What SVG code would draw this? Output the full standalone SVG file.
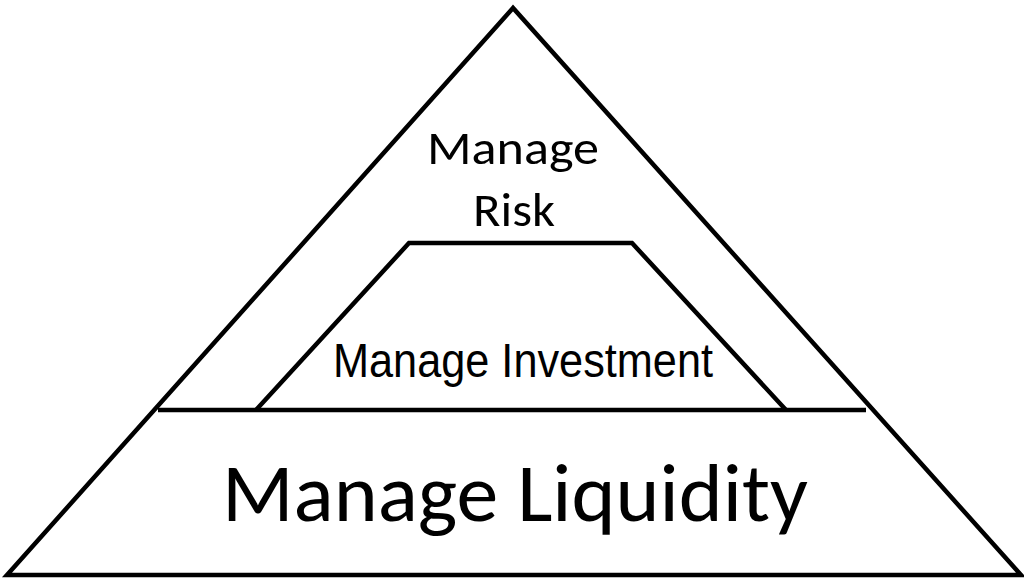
<svg xmlns="http://www.w3.org/2000/svg" width="1024" height="580" viewBox="0 0 1024 580">
<style>
.ln{fill:none;stroke:#000;stroke-width:4.5;stroke-linejoin:miter}
.cal{font-family:Carlito,Lato,"Open Sans",sans-serif;fill:#000;text-anchor:middle}
.ar{font-family:"Liberation Sans Narrow","Liberation Sans",Arial,sans-serif;fill:#000;text-anchor:middle}
</style>
<rect width="1024" height="580" fill="#fff"/>
<g id="connectors">
<polygon class="ln" points="513,8 7,575 1021,575"/>
<line class="ln" x1="158" y1="410" x2="866" y2="410"/>
</g>
<g id="risk">
<text class="cal" x="513" y="164" font-size="48" textLength="172" lengthAdjust="spacingAndGlyphs">Manage</text>
<text class="cal" x="514" y="226" font-size="48" textLength="82" lengthAdjust="spacingAndGlyphs">Risk</text>
</g>
<g id="investment">
<polyline class="ln" points="256,410 409,243 632,243 786,410"/>
<text class="ar" x="523" y="377" font-size="49" textLength="380" lengthAdjust="spacingAndGlyphs">Manage Investment</text>
</g>
<g id="liquidity">
<text class="cal" x="515" y="521" font-size="82" textLength="586" lengthAdjust="spacingAndGlyphs">Manage Liquidity</text>
</g>
</svg>
